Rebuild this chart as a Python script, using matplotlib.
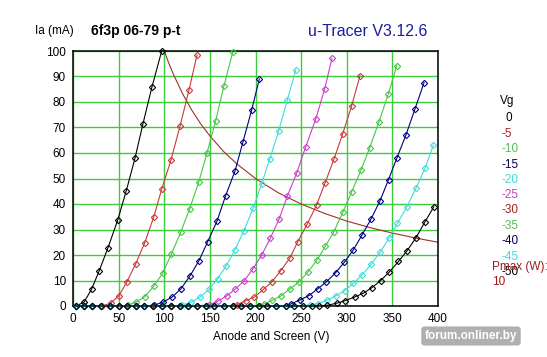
import matplotlib
matplotlib.use('Agg')
import matplotlib.pyplot as plt

plt.rcParams.update({
    'font.family': ['Liberation Sans', 'DejaVu Sans'],
    'font.size': 8.5,
})

sweep_v = [3, 12, 21, 31, 40, 50, 59, 69, 78, 88, 97, 107, 117, 126, 136,
           146, 155, 165, 175, 184, 194, 204, 213, 223, 233, 242, 252, 262, 270]

vg_labels = ['0', '-5', '-10', '-15', '-20', '-25', '-30', '-35', '-40', '-45', '-50']

va_0 = [97.2, 86.6, 76.7, 67.9, 58.4, 49.0, 38.4, 28.5, 20.5, 12.1, 3.3]
ia_0 = [100, 86.0, 71.5, 57.9, 45.2, 33.7, 22.9, 13.6, 6.7, 1.5, 0]

va_5 = [135.9, 127.1, 117.3, 107.4, 97.2, 88.4, 78.6, 68.7, 58.8, 50.1, 41.3, 31.8]
ia_5 = [98.4, 84.7, 70.6, 57.3, 45.8, 34.8, 24.8, 16.5, 9.3, 3.9, 1.1, 0]

va_10 = [175.0, 165.5, 156.4, 146.9, 137.8, 127.9, 118.0, 107.7, 98.3, 88.4, 78.6, 69.0, 59.9]
ia_10 = [99.5, 86.4, 72.7, 60.1, 48.6, 38.2, 28.9, 20.3, 12.9, 7.7, 3.6, 1.5, 0.3]

va_15 = [204.2, 195.8, 186.3, 177.5, 167.3, 157.8, 147.6, 138.1, 128.2, 118.4, 109.0, 98.6, 88.8]
ia_15 = [89.0, 76.9, 64.4, 52.9, 43.3, 33.3, 25.2, 17.8, 11.8, 6.8, 3.6, 1.5, 0.3]

va_20 = [244.1, 234.9, 225.4, 215.6, 206.6, 197.6, 187.1, 177.5, 168.0, 158.6, 149.0, 138.9, 129.3, 119.8]
ia_20 = [92.5, 80.8, 68.7, 57.6, 47.8, 38.5, 29.4, 22.0, 15.8, 10.7, 6.5, 3.4, 1.5, 0.3]

va_25 = [283.8, 275.8, 266.0, 255.1, 245.2, 234.9, 225.8, 216.2, 206.8, 196.9, 187.4, 177.9, 168.4, 158.9, 149.4]
ia_25 = [97.1, 85.1, 73.3, 62.5, 52.2, 43.1, 34.1, 26.5, 20.0, 14.4, 9.8, 6.7, 3.9, 2.0, 0.5]

va_30 = [314.5, 305.4, 295.6, 286.0, 276.4, 266.9, 256.5, 246.3, 237.8, 227.6, 217.8, 208.6, 198.7, 189.6, 179.4]
ia_30 = [90.3, 78.5, 67.6, 57.6, 48.4, 39.6, 32.0, 25.2, 18.9, 13.8, 9.4, 6.5, 3.5, 2.1, 0.5]

va_35 = [354.8, 345.5, 335.4, 325.2, 315.6, 305.4, 295.6, 286.0, 276.7, 267.1, 257.8, 248.0, 237.8, 227.6, 218.4, 209.3]
ia_35 = [94.2, 83.1, 72.3, 62.1, 53.3, 44.8, 36.7, 29.2, 23.5, 17.9, 13.5, 9.5, 6.7, 3.9, 2.2, 0.8]

va_40 = [384.7, 374.8, 364.9, 355.1, 345.8, 336.5, 326.6, 316.7, 307.2, 297.2, 287.7, 277.8, 268.2, 258.6, 248.8, 238.9]
ia_40 = [87.6, 77.3, 67.1, 58.2, 49.6, 41.3, 34.1, 27.8, 22.0, 17.1, 13.0, 9.5, 6.7, 4.1, 2.4, 0.8]

va_45 = [394.9, 385.8, 375.9, 365.7, 355.6, 346.0, 336.5, 326.8, 316.9, 307.2, 297.8, 287.7, 278.4, 268.2, 259.4]
ia_45 = [63.1, 54.0, 46.2, 38.8, 32.4, 26.5, 21.0, 16.4, 12.2, 8.9, 6.0, 3.9, 2.3, 0.9, 0.4]

va_50 = [395.4, 385.4, 375.9, 366.0, 356.7, 346.6, 337.2, 327.7, 318.1, 308.5, 298.4, 289.0, 278.9, 269.6]
ia_50 = [38.9, 32.8, 26.8, 21.6, 17.5, 13.3, 10.0, 7.2, 5.0, 3.5, 2.1, 1.1, 0.3, 0]

# Pmax = 10 W line
pmax_v = [100, 105, 110, 120, 130, 140, 150, 165, 180, 200, 225, 250, 275, 300, 325, 350, 375, 400]
pmax_i = [100, 95.2, 90.9, 83.3, 76.9, 71.4, 66.7, 60.6, 55.6, 50.0, 44.4, 40.0, 36.4, 33.3, 30.8, 28.6, 26.7, 25.0]

BLACK = '#000000'
RED = '#c83a3a'
GREEN = '#44c844'
NAVY = '#000080'
CYAN = '#3fdcdc'
MAGENTA = '#cc3fcc'
colors = [BLACK, RED, GREEN, NAVY, CYAN, MAGENTA, RED, GREEN, NAVY, CYAN, BLACK]
label_colors = [BLACK, '#b02020', '#55bb55', '#000050', '#40d8d8', '#c040c0',
                '#a02020', '#55bb55', '#000060', '#40d8d8', BLACK]

curves = [(va_0, ia_0), (va_5, ia_5), (va_10, ia_10), (va_15, ia_15),
          (va_20, ia_20), (va_25, ia_25), (va_30, ia_30), (va_35, ia_35),
          (va_40, ia_40), (va_45, ia_45), (va_50, ia_50)]

fig = plt.figure(figsize=(5.47, 3.57), dpi=100)
ax = fig.add_axes([73 / 547, 51 / 357, 365 / 547, 255 / 357])

ax.set_xlim(0, 400)
ax.set_ylim(0, 100)
ax.set_xticks(range(0, 401, 50))
ax.set_yticks(range(0, 101, 10))
ax.grid(True, color='#3ccc3c', linewidth=1.0)
ax.set_axisbelow(True)
ax.tick_params(length=0, pad=5, labelsize=8.5)
for sp in ax.spines.values():
    sp.set_linewidth(1.1)
    sp.set_color('black')

ax.plot(pmax_v, pmax_i, color='#a0302a', linewidth=0.8, zorder=2)

for (va, ia), c in zip(curves, colors):
    v0 = min(va)
    xs = list(va) + [v for v in reversed(sweep_v) if v < v0 - 4]
    ys = list(ia) + [0] * (len(xs) - len(va))
    ax.plot(xs, ys, color=c, linewidth=0.8, marker='D', markersize=3.2,
            markerfacecolor='none', markeredgewidth=0.8, clip_on=False, zorder=3)

# header texts
fig.text(35 / 547, 1 - 31 / 357, 'Ia (mA)', fontsize=8.5, va='center', ha='left')
fig.text(91 / 547, 1 - 31 / 357, '6f3p 06-79 p-t', fontsize=10, fontweight='bold',
         va='center', ha='left')
fig.text(368 / 547, 1 - 31 / 357, 'u-Tracer V3.12.6', fontsize=11.5, color='#1c1ca0',
         va='center', ha='center')
fig.text(271 / 547, 1 - 337 / 357, 'Anode and Screen (V)', fontsize=8.5,
         va='center', ha='center')

# Vg legend
fig.text(500 / 547, 1 - 101 / 357, 'Vg', fontsize=8.5, va='center', ha='left')
ys_lab = [118, 134, 149, 165, 180, 195, 210, 226, 241, 257, 272]
for lab, c, y in zip(vg_labels, label_colors, ys_lab):
    x = 505 if lab == '0' else 501
    fig.text(x / 547, 1 - y / 357, lab, fontsize=8.5, color=c, va='center', ha='left')
fig.text(492 / 547, 1 - 267 / 357, 'Pmax (W):', fontsize=8.5, color='#a01818',
         va='center', ha='left')
fig.text(492 / 547, 1 - 282 / 357, '10', fontsize=8.5, color='#a01818',
         va='center', ha='left')

# watermark
fig.text(471 / 547, 1 - 336 / 357, 'forum.onliner.by', fontsize=8.5, fontweight='bold',
         color='white', va='center', ha='center',
         bbox=dict(boxstyle='round,pad=0.3', facecolor='#a8a8a8', edgecolor='none', alpha=0.9))

fig.savefig('out.png', dpi=100)
